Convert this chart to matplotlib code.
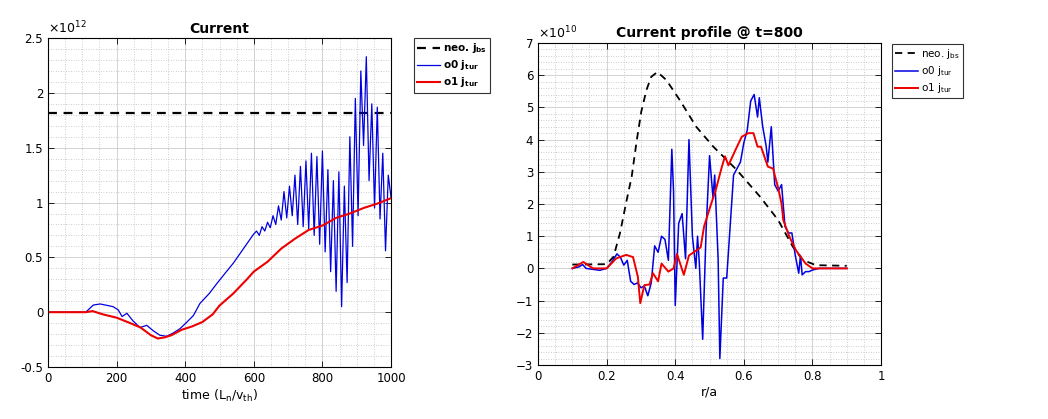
import matplotlib
matplotlib.use("Agg")
import matplotlib.pyplot as plt
from matplotlib.ticker import MultipleLocator, FuncFormatter

# ---- left panel: current vs time (values in units of 1e12) ----
t_neo = [0, 1000]
j_neo = [1.82, 1.82]

t_o0 = [0, 110, 132, 152, 175, 190, 205, 216, 230, 248, 268, 288, 307, 326, 346,
        365, 385, 405, 424, 443, 470, 492, 515, 541, 570, 599,
        608, 616, 624, 632, 640, 648, 656, 664, 672, 680, 688, 696, 704, 712,
        720, 728, 736, 744, 752, 760, 768, 776, 784, 792, 800, 808, 816, 824,
        832, 840, 848, 856, 864, 872, 880, 888, 896, 904, 912, 920, 928, 936,
        944, 952, 960, 968, 976, 984, 992, 1000]
j_o0 = [0.0, 0.0, 0.065, 0.075, 0.06, 0.05, 0.02, -0.04, -0.01, -0.08, -0.14, -0.12, -0.17, -0.21, -0.22,
        -0.19, -0.15, -0.09, -0.03, 0.08, 0.17, 0.26, 0.35, 0.45, 0.58, 0.71,
        0.74, 0.70, 0.78, 0.74, 0.82, 0.77, 0.88, 0.80, 0.97, 0.84, 1.10, 0.86, 1.15, 0.88,
        1.25, 0.80, 1.33, 0.78, 1.38, 0.76, 1.45, 0.70, 1.42, 0.62, 1.47, 0.55, 1.30, 0.37,
        1.20, 0.19, 1.28, 0.05, 1.15, 0.27, 1.60, 0.60, 1.95, 0.88, 2.20, 1.52, 2.33, 1.20,
        1.90, 0.95, 1.87, 0.85, 1.45, 0.56, 1.25, 1.05]

t_o1 = [0, 110, 130, 160, 200, 240, 270, 300, 320, 340, 360, 390, 420, 450, 480,
        500, 540, 580, 600, 640, 680, 720, 760, 800, 840, 880, 920, 960, 1000]
j_o1 = [0.0, 0.0, 0.01, -0.02, -0.05, -0.10, -0.14, -0.21, -0.24, -0.23, -0.21, -0.16, -0.13, -0.09, -0.02,
        0.06, 0.17, 0.30, 0.37, 0.46, 0.58, 0.67, 0.75, 0.79, 0.86, 0.90, 0.95, 0.99, 1.04]

# ---- right panel: current profile at t=800 (values in units of 1e10) ----
r_neo = [0.10, 0.20, 0.22, 0.239, 0.258, 0.273, 0.288, 0.301, 0.316, 0.33, 0.348,
         0.374, 0.413, 0.461, 0.511, 0.55, 0.579, 0.647, 0.70, 0.743, 0.772, 0.81, 0.90]
j_neo_r = [0.12, 0.13, 0.36, 1.1, 2.1, 2.85, 3.99, 4.87, 5.54, 5.95, 6.1,
           5.85, 5.23, 4.4, 3.78, 3.37, 3.06, 2.23, 1.5, 0.67, 0.26, 0.1, 0.08]

r_o0 = [0.10, 0.12, 0.13, 0.14, 0.16, 0.18, 0.20, 0.215, 0.23, 0.24, 0.25, 0.26, 0.27,
        0.28, 0.29, 0.30, 0.31, 0.32, 0.33, 0.34, 0.35, 0.36, 0.37, 0.38, 0.39, 0.395,
        0.40, 0.41, 0.42, 0.43, 0.44, 0.45, 0.46, 0.465, 0.47, 0.48, 0.49, 0.50, 0.51,
        0.515, 0.525, 0.53, 0.54, 0.55, 0.56, 0.57, 0.58, 0.59, 0.60, 0.61, 0.62, 0.63,
        0.64, 0.645, 0.655, 0.665, 0.67, 0.68, 0.69, 0.70, 0.71, 0.72, 0.73, 0.74, 0.75,
        0.76, 0.765, 0.77, 0.78, 0.79, 0.80, 0.82, 0.85, 0.90]
j_o0_r = [0.0, 0.05, 0.12, 0.0, -0.03, -0.06, 0.0, 0.2, 0.45, 0.35, 0.1, 0.25, -0.4,
          -0.5, -0.45, -0.6, -0.55, -0.85, -0.45, 0.7, 0.5, 1.0, 0.9, 0.25, 3.7, 2.4,
          -1.15, 1.4, 1.7, 0.3, 4.0, 1.0, 0.0, 1.0, 0.2, -2.2, 1.2, 3.5, 2.2,
          2.9, 0.3, -2.8, -0.3, -0.3, 1.3, 2.9, 3.1, 3.3, 3.9, 4.3, 5.2, 5.4,
          4.7, 5.3, 4.4, 3.8, 3.3, 4.4, 2.6, 2.4, 2.6, 1.3, 1.1, 1.1, 0.4,
          -0.15, 0.4, -0.2, -0.1, -0.1, -0.05, 0.0, 0.0, 0.0]

r_o1 = [0.10, 0.132, 0.16, 0.20, 0.228, 0.257, 0.277, 0.291, 0.298, 0.31, 0.325, 0.335,
        0.35, 0.36, 0.38, 0.395, 0.405, 0.425, 0.44, 0.474, 0.484, 0.50, 0.518, 0.536,
        0.545, 0.555, 0.58, 0.594, 0.613, 0.628, 0.64, 0.65, 0.67, 0.685, 0.70, 0.71,
        0.715, 0.733, 0.752, 0.78, 0.80, 0.90]
j_o1_r = [0.0, 0.2, 0.0, 0.0, 0.31, 0.42, 0.35, -0.26, -1.08, -0.52, -0.5, -0.15,
          -0.4, 0.15, -0.1, 0.0, 0.45, -0.2, 0.4, 0.65, 1.3, 1.85, 2.43, 3.16,
          3.48, 3.2, 3.78, 4.09, 4.2, 4.2, 3.78, 3.78, 3.16, 3.1, 2.5, 2.0,
          1.5, 0.98, 0.56, 0.15, 0.0, 0.0]

fig = plt.figure(figsize=(10.48, 4.19), dpi=100)
ax1 = fig.add_axes([0.0458, 0.1241, 0.3273, 0.785])
ax2 = fig.add_axes([0.5134, 0.1289, 0.3273, 0.7685])

fmt = FuncFormatter(lambda v, p: f"{v:g}")


def style(ax):
    ax.tick_params(direction="in", top=True, right=True, labelsize=8.5,
                   length=4, width=0.6)
    ax.tick_params(which="minor", length=0)
    ax.grid(which="major", color="#cccccc", lw=0.6)
    ax.grid(which="minor", color="#bdbdbd", lw=0.6, ls=(0, (1, 2)))
    ax.set_axisbelow(True)
    for s in ax.spines.values():
        s.set_linewidth(0.8)


# left
ax1.plot(t_neo, j_neo, "k--", lw=1.6, dashes=(4, 3), label=r"neo. $\mathregular{j_{bs}}$")
ax1.plot(t_o0, j_o0, color="#0000e0", lw=0.9, label=r"o0 $\mathregular{j_{tur}}$")
ax1.plot(t_o1, j_o1, color="#ee0000", lw=1.5, label=r"o1 $\mathregular{j_{tur}}$")
ax1.set_xlim(0, 1000)
ax1.set_ylim(-0.5, 2.5)
ax1.xaxis.set_major_locator(MultipleLocator(200))
ax1.xaxis.set_minor_locator(MultipleLocator(50))
ax1.yaxis.set_major_locator(MultipleLocator(0.5))
ax1.yaxis.set_minor_locator(MultipleLocator(0.1))
ax1.yaxis.set_major_formatter(fmt)
style(ax1)
ax1.set_title("Current", fontsize=10, fontweight="bold", pad=4)
ax1.set_xlabel(r"time (L$_\mathregular{n}$/v$_\mathregular{th}$)", fontsize=9, labelpad=2)
ax1.text(0.0, 1.005, r"$\times\mathregular{10^{12}}$", transform=ax1.transAxes,
         fontsize=9, va="bottom", ha="left")
leg1 = ax1.legend(loc="upper left", bbox_to_anchor=(1.067, 1.0),
                  frameon=True, fancybox=False, edgecolor="k", handlelength=2.2,
                  borderpad=0.3, labelspacing=0.3, handletextpad=0.3, borderaxespad=0,
                  prop={"weight": "bold", "size": 7.5})
leg1.get_frame().set_linewidth(0.8)

# right
ax2.plot(r_neo, j_neo_r, "k--", lw=1.3, dashes=(4, 3), label=r"neo. $\mathregular{j_{bs}}$")
ax2.plot(r_o0, j_o0_r, color="#0000e0", lw=1.1, label=r"o0 $\mathregular{j_{tur}}$")
ax2.plot(r_o1, j_o1_r, color="#ee0000", lw=1.4, label=r"o1 $\mathregular{j_{tur}}$")
ax2.set_xlim(0, 1)
ax2.set_ylim(-3, 7)
ax2.xaxis.set_major_locator(MultipleLocator(0.2))
ax2.xaxis.set_minor_locator(MultipleLocator(0.05))
ax2.yaxis.set_major_locator(MultipleLocator(1))
ax2.yaxis.set_minor_locator(MultipleLocator(0.2))
ax2.xaxis.set_major_formatter(fmt)
style(ax2)
ax2.set_title("Current profile @ t=800", fontsize=10, fontweight="bold", pad=4)
ax2.set_xlabel("r/a", fontsize=9, labelpad=2)
ax2.text(0.0, 1.005, r"$\times\mathregular{10^{10}}$", transform=ax2.transAxes,
         fontsize=9, va="bottom", ha="left")
leg2 = ax2.legend(loc="upper left", bbox_to_anchor=(1.032, 0.997), fontsize=7.5,
                  frameon=True, fancybox=False, edgecolor="k", handlelength=2.2,
                  borderpad=0.3, labelspacing=0.3, handletextpad=0.3, borderaxespad=0)
leg2.get_frame().set_linewidth(0.8)

fig.savefig("out.png", dpi=100)
